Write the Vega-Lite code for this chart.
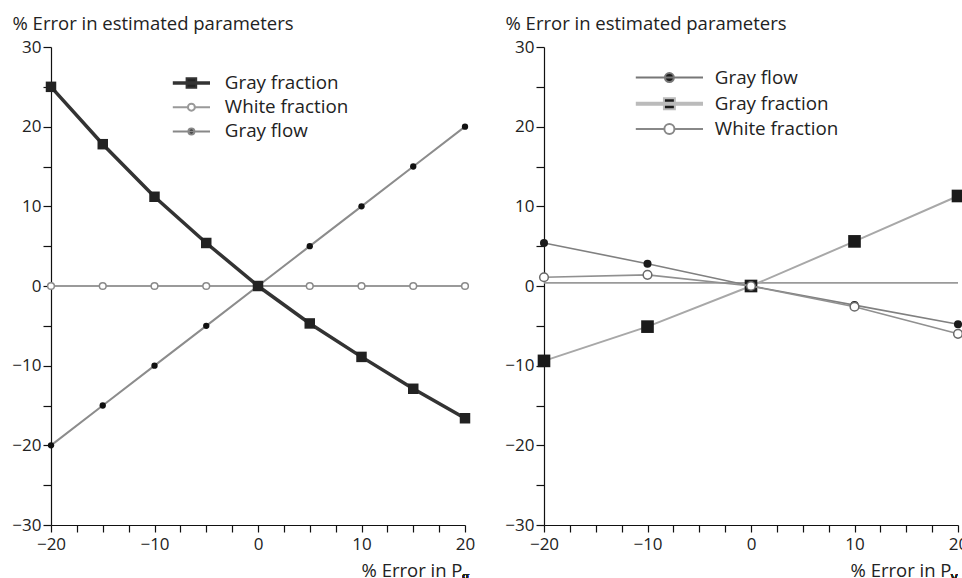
{
  "$schema": "https://vega.github.io/schema/vega-lite/v6.json",
  "background": "white",
  "padding": {"left": 11, "top": 14, "right": 0, "bottom": 0},
  "config": {
    "view": {"stroke": null},
    "font": "Open Sans",
    "concat": {"spacing": 29},
    "axis": {
      "grid": false,
      "domainColor": "#111",
      "domainWidth": 1.2,
      "tickColor": "#111",
      "tickWidth": 1.2,
      "labelFont": "Open Sans",
      "labelFontSize": 17,
      "labelColor": "#222",
      "labelOverlap": false,
      "labelFlush": false,
      "titleFont": "Open Sans",
      "titleFontSize": 18.5,
      "titleFontWeight": "normal",
      "titleColor": "#222"
    },
    "legend": {
      "labelFont": "Open Sans",
      "labelFontSize": 18.8,
      "labelColor": "#222",
      "padding": 0,
      "symbolOpacity": 1,
      "symbolStrokeWidth": 2
    }
  },
  "datasets": {
    "left": [
      {"x": -20, "y": 25, "series": "Gray fraction"},
      {"x": -15, "y": 17.8, "series": "Gray fraction"},
      {"x": -10, "y": 11.2, "series": "Gray fraction"},
      {"x": -5, "y": 5.4, "series": "Gray fraction"},
      {"x": 0, "y": 0, "series": "Gray fraction"},
      {"x": 5, "y": -4.7, "series": "Gray fraction"},
      {"x": 10, "y": -8.9, "series": "Gray fraction"},
      {"x": 15, "y": -12.9, "series": "Gray fraction"},
      {"x": 20, "y": -16.6, "series": "Gray fraction"},
      {"x": -20, "y": 0, "series": "White fraction"},
      {"x": -15, "y": 0, "series": "White fraction"},
      {"x": -10, "y": 0, "series": "White fraction"},
      {"x": -5, "y": 0, "series": "White fraction"},
      {"x": 0, "y": 0, "series": "White fraction"},
      {"x": 5, "y": 0, "series": "White fraction"},
      {"x": 10, "y": 0, "series": "White fraction"},
      {"x": 15, "y": 0, "series": "White fraction"},
      {"x": 20, "y": 0, "series": "White fraction"},
      {"x": -20, "y": -20, "series": "Gray flow"},
      {"x": -15, "y": -15, "series": "Gray flow"},
      {"x": -10, "y": -10, "series": "Gray flow"},
      {"x": -5, "y": -5, "series": "Gray flow"},
      {"x": 0, "y": 0, "series": "Gray flow"},
      {"x": 5, "y": 5, "series": "Gray flow"},
      {"x": 10, "y": 10, "series": "Gray flow"},
      {"x": 15, "y": 15, "series": "Gray flow"},
      {"x": 20, "y": 20, "series": "Gray flow"}
    ],
    "right": [
      {"x": -20, "y": 0.4, "series": "Baseline"},
      {"x": 20, "y": 0.4, "series": "Baseline"},
      {"x": -20, "y": 5.4, "series": "Gray flow"},
      {"x": -10, "y": 2.8, "series": "Gray flow"},
      {"x": 0, "y": 0, "series": "Gray flow"},
      {"x": 10, "y": -2.4, "series": "Gray flow"},
      {"x": 20, "y": -4.8, "series": "Gray flow"},
      {"x": -20, "y": -9.4, "series": "Gray fraction"},
      {"x": -10, "y": -5.1, "series": "Gray fraction"},
      {"x": 0, "y": 0, "series": "Gray fraction"},
      {"x": 10, "y": 5.6, "series": "Gray fraction"},
      {"x": 20, "y": 11.3, "series": "Gray fraction"},
      {"x": -20, "y": 1.1, "series": "White fraction"},
      {"x": -10, "y": 1.4, "series": "White fraction"},
      {"x": 0, "y": 0, "series": "White fraction"},
      {"x": 10, "y": -2.6, "series": "White fraction"},
      {"x": 20, "y": -6.0, "series": "White fraction"}
    ]
  },
  "hconcat": [
    {
      "width": 414,
      "height": 478,
      "data": {"name": "left"},
      "encoding": {
        "x": {
          "field": "x", "type": "quantitative",
          "scale": {"domain": [-20, 20], "nice": false, "zero": false},
          "axis": {
            "values": [-20, -17.5, -15, -12.5, -10, -7.5, -5, -2.5, 0, 2.5, 5, 7.5, 10, 12.5, 15, 17.5, 20],
            "labelExpr": "datum.value % 10 === 0 ? datum.label : ''",
            "tickSize": 7, "labelPadding": 4,
            "title": "% Error in P", "titleAlign": "right", "titleBaseline": "alphabetic",
            "titleX": 411, "titleY": 51, "titleAngle": 0
          }
        },
        "y": {
          "field": "y", "type": "quantitative",
          "scale": {"domain": [-30, 30], "nice": false, "zero": false},
          "axis": {
            "values": [-30, -25, -20, -15, -10, -5, 0, 5, 10, 15, 20, 25, 30],
            "labelExpr": "datum.value % 10 === 0 ? datum.label : ''",
            "tickSize": 8, "labelPadding": 2,
            "title": "% Error in estimated parameters", "titleAngle": 0,
            "titleAlign": "left", "titleBaseline": "alphabetic",
            "titleX": -39, "titleY": -17.5
          }
        }
      },
      "layer": [
        {
          "transform": [{"filter": "datum.series === 'White fraction'"}],
          "mark": {"type": "line", "color": "#9a9a9a", "strokeWidth": 2,
            "point": {"shape": "circle", "filled": true, "fill": "white", "stroke": "#8a8a8a", "strokeWidth": 1.5, "size": 45}}
        },
        {
          "transform": [{"filter": "datum.series === 'Gray flow'"}],
          "mark": {"type": "line", "color": "#8c8c8c", "strokeWidth": 2,
            "point": {"shape": "circle", "filled": true, "color": "#111", "size": 40}}
        },
        {
          "transform": [{"filter": "datum.series === 'Gray fraction'"}],
          "mark": {"type": "line", "color": "#333", "strokeWidth": 3.5,
            "point": {"shape": "square", "filled": true, "color": "#222", "size": 110}}
        },
        {
          "mark": {"type": "text", "text": "g", "fontSize": 13, "align": "left", "baseline": "alphabetic", "dx": -3, "dy": 56, "font": "Open Sans", "color": "#222"},
          "encoding": {"x": {"datum": 20}, "y": {"datum": -30}}
        },
        {
          "transform": [{"filter": "false"}],
          "mark": {"type": "point", "filled": true, "opacity": 1},
          "encoding": {
            "shape": {"field": "series", "type": "nominal",
              "scale": {"domain": ["Gray fraction", "White fraction", "Gray flow"],
                "range": ["M-3.1,-0.12H3.1M-3.1,0.12H3.1M-0.8,-0.8H0.8V0.8H-0.8Z",
                  "M-3.1,0H-0.58M0.58,0H3.1M-0.58,0A0.58,0.58 0 1,0 0.58,0A0.58,0.58 0 1,0 -0.58,0Z",
                  "M-3.1,0H3.1M-0.5,0A0.5,0.5 0 1,0 0.5,0A0.5,0.5 0 1,0 -0.5,0Z"]},
              "legend": {"orient": "none", "legendX": 131, "legendY": 26.6, "title": null,
                "symbolSize": 144, "labelOffset": 24, "rowPadding": 4.2}},
            "stroke": {"field": "series", "type": "nominal",
              "scale": {"domain": ["Gray fraction", "White fraction", "Gray flow"], "range": ["#333", "#999", "#888"]}},
            "fill": {"field": "series", "type": "nominal",
              "scale": {"domain": ["Gray fraction", "White fraction", "Gray flow"], "range": ["#222", "#ffffff", "#111"]}}
          }
        }
      ]
    },
    {
      "width": 414,
      "height": 478,
      "data": {"name": "right"},
      "encoding": {
        "x": {
          "field": "x", "type": "quantitative",
          "scale": {"domain": [-20, 20], "nice": false, "zero": false},
          "axis": {
            "values": [-20, -17.5, -15, -12.5, -10, -7.5, -5, -2.5, 0, 2.5, 5, 7.5, 10, 12.5, 15, 17.5, 20],
            "labelExpr": "datum.value % 10 === 0 ? datum.label : ''",
            "tickSize": 7, "labelPadding": 4,
            "title": "% Error in P", "titleAlign": "right", "titleBaseline": "alphabetic",
            "titleX": 407, "titleY": 51, "titleAngle": 0
          }
        },
        "y": {
          "field": "y", "type": "quantitative",
          "scale": {"domain": [-30, 30], "nice": false, "zero": false},
          "axis": {
            "values": [-30, -25, -20, -15, -10, -5, 0, 5, 10, 15, 20, 25, 30],
            "labelExpr": "datum.value % 10 === 0 ? datum.label : ''",
            "tickSize": 8, "labelPadding": 2,
            "title": "% Error in estimated parameters", "titleAngle": 0,
            "titleAlign": "left", "titleBaseline": "alphabetic",
            "titleX": -39, "titleY": -17.5
          }
        }
      },
      "layer": [
        {
          "transform": [{"filter": "datum.series === 'Baseline'"}],
          "mark": {"type": "line", "color": "#9a9a9a", "strokeWidth": 1.8}
        },
        {
          "transform": [{"filter": "datum.series === 'Gray fraction'"}],
          "mark": {"type": "line", "color": "#a8a8a8", "strokeWidth": 2,
            "point": {"shape": "square", "filled": true, "color": "#1a1a1a", "size": 160}}
        },
        {
          "transform": [{"filter": "datum.series === 'Gray flow'"}],
          "mark": {"type": "line", "color": "#808080", "strokeWidth": 1.6,
            "point": {"shape": "circle", "filled": true, "color": "#1a1a1a", "size": 65}}
        },
        {
          "transform": [{"filter": "datum.series === 'White fraction'"}],
          "mark": {"type": "line", "color": "#909090", "strokeWidth": 1.6,
            "point": {"shape": "circle", "filled": true, "fill": "white", "stroke": "#6a6a6a", "strokeWidth": 1.5, "size": 75}}
        },
        {
          "mark": {"type": "text", "text": "v", "fontSize": 13, "align": "left", "baseline": "alphabetic", "dx": -7, "dy": 56, "font": "Open Sans", "color": "#222"},
          "encoding": {"x": {"datum": 20}, "y": {"datum": -30}}
        },
        {
          "transform": [{"filter": "false"}],
          "mark": {"type": "point", "filled": true, "opacity": 1},
          "encoding": {
            "shape": {"field": "series", "type": "nominal",
              "scale": {"domain": ["Gray flow", "Gray fraction", "White fraction"],
                "range": ["M-4.8,0H4.8M-0.64,0A0.64,0.64 0 1,0 0.64,0A0.64,0.64 0 1,0 -0.64,0Z",
                  "M-4.8,-0.14H4.8M-4.8,0.14H4.8M-0.78,-0.78H0.78V0.78H-0.78Z",
                  "M-4.8,0H-0.72M0.72,0H4.8M-0.72,0A0.72,0.72 0 1,0 0.72,0A0.72,0.72 0 1,0 -0.72,0Z"]},
              "legend": {"orient": "none", "legendX": 116, "legendY": 21.2, "title": null,
                "symbolSize": 196, "labelOffset": 36, "rowPadding": 5.2}},
            "stroke": {"field": "series", "type": "nominal",
              "scale": {"domain": ["Gray flow", "Gray fraction", "White fraction"], "range": ["#777", "#bbbbbb", "#888"]}},
            "fill": {"field": "series", "type": "nominal",
              "scale": {"domain": ["Gray flow", "Gray fraction", "White fraction"], "range": ["#1a1a1a", "#1a1a1a", "#ffffff"]}}
          }
        }
      ],
      "resolve": {"scale": {"shape": "independent", "stroke": "independent", "fill": "independent"}}
    }
  ],
  "resolve": {"scale": {"shape": "independent", "stroke": "independent", "fill": "independent"}, "legend": {"shape": "independent", "stroke": "independent", "fill": "independent"}}
}
